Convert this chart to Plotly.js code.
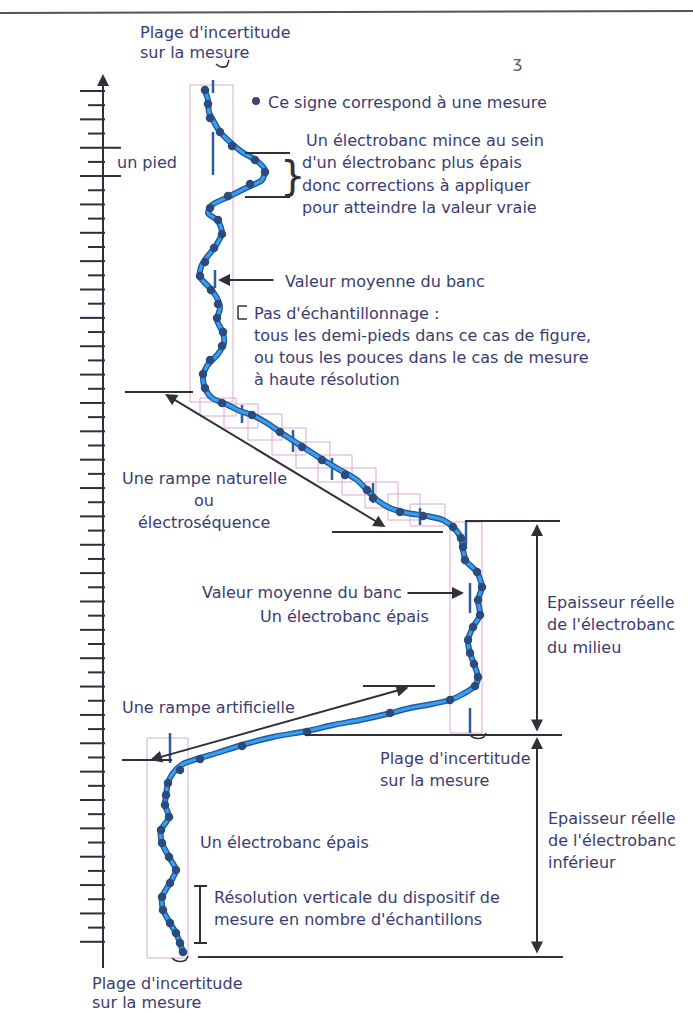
<!DOCTYPE html>
<html>
<head>
<meta charset="utf-8">
<script src="https://cdn.plot.ly/plotly-3.0.1.min.js"></script>
<style>html,body{margin:0;padding:0;background:#fff;}#chart{width:693px;height:1012px;}</style>
</head>
<body>
<div id="chart"></div>
<script>
// ---- Data (log curve: depth position, log value position) ----
const curveDepth = [88,100,112,122,132,142,152,161,170,180,188,197,205,213,221,233,247,257,267,277,288,298,308,320,333,343,354,366,377,388,398,
  405,411,415,423,432,445,458,470,480,490,500,508,513,516,520,527,
  538,550,561,572,587,600,615,627,640,653,664,677,686,694,700,705,708,714,720,725,731,737,745,753,758,764,773,
  783,795,805,817,830,843,857,870,883,897,910,923,933,943,952];
const curveValue = [204,208,209,214,220,230,242,257,265,262,246,228,212,208,218,222,215,207,201,200,210,217,220,217,223,224,218,207,203,205,212,
  228,240,252,267,280,300,320,340,357,367,377,390,407,427,443,453,
  461,463,466,477,482,478,480,473,468,470,474,478,475,463,450,427,410,387,360,333,307,273,242,217,200,183,173,
  168,166,165,169,161,162,169,176,170,162,163,170,176,180,183];
// measurement samples (dots)
const sampleDepth = [90,104,118,132,146,160,172,184,196,208,220,234,248,262,276,290,304,318,332,346,360,374,388,
  403,415,432,447,460,475,490,498,512,516,527,538,
  547,560,572,587,600,615,627,640,653,664,677,686,700,713,732,746,759,
  770,783,795,805,817,830,843,857,870,883,897,910,923,933,943,952];
const sampleValue = [205,208,210,220,232,255,265,250,228,210,218,222,214,205,200,211,218,217,223,222,210,203,205,
  222,252,280,302,322,345,367,373,400,423,453,461,
  463,465,477,482,478,480,473,468,470,474,478,475,450,390,307,242,200,
  180,168,166,165,169,161,162,169,176,170,162,163,170,176,180,183];
// uncertainty boxes [x0,x1,y0,y1]
const boxes = [[190,233,85,402],[200,236,398,416],[224,258,404,428],[248,282,414,440],[272,306,428,455],[296,330,442,468],
  [318,352,455,482],[342,376,468,495],[365,398,482,508],[388,420,494,520],[410,445,504,526],[450,482,522,733],[147,188,738,958]];
// mean-value bars [x,y0,y1]
const meanBars = [[213,80,93],[213,132,175],[215,270,288],[242,405,423],[293,430,452],[332,458,480],[373,483,503],[420,508,525],
  [470,583,613],[470,708,733],[170,733,763],[466,521,545]];
// ladder: half-foot graduations
const ladderTop = 91, ladderStep = 14.18, ladderCount = 61;

const traces = [];
// ladder
const lx=[], ly=[];
lx.push(103,103,null); ly.push(76,968,null);
for (let k=0;k<ladderCount;k++){
  const y = ladderTop + k*ladderStep;
  const long = (k%2===0);
  const right = (k===4||k===6) ? 121 : 105;
  lx.push(long?80:88, right, null); ly.push(y,y,null);
}
traces.push({x:lx,y:ly,mode:'lines',line:{color:'#2e2e3e',width:2},hoverinfo:'skip'});
// boxes
const bx=[],by=[];
boxes.forEach(b=>{bx.push(b[0],b[1],b[1],b[0],b[0],null);by.push(b[2],b[2],b[3],b[3],b[2],null);});
traces.push({x:bx,y:by,mode:'lines',line:{color:'#d9a8d2',width:1},hoverinfo:'skip'});
// mean bars
const mx=[],my=[];
meanBars.forEach(m=>{mx.push(m[0],m[0],null);my.push(m[1],m[2],null);});
traces.push({x:mx,y:my,mode:'lines',line:{color:'#2d5d9e',width:2.5},hoverinfo:'skip'});
// curve
traces.push({x:curveValue,y:curveDepth,mode:'lines',line:{color:'#1f5a9e',width:6,shape:'spline',smoothing:0.7},hoverinfo:'skip'});
traces.push({x:curveValue,y:curveDepth,mode:'lines',line:{color:'#3a9ef0',width:3.2,shape:'spline',smoothing:0.7},hoverinfo:'skip'});
traces.push({x:sampleValue,y:sampleDepth,mode:'markers',marker:{color:'#2a4b7c',size:8.5},hoverinfo:'skip'});

const K='#303038';
function seg(x0,y0,x1,y1,c,w){return {type:'line',xref:'x',yref:'y',x0:x0,y0:y0,x1:x1,y1:y1,line:{color:c||K,width:w||2}};}
const shapes = [
  seg(0,13,693,11,'#555',2),
  seg(245,153,290,153), seg(245,197,290,197),
  seg(125,392,193,392), seg(332,532,443,532),
  seg(465,521,560,521), seg(363,686,435,686),
  seg(122,760,172,760), seg(305,735,562,735), seg(198,957,563,957),
  seg(200,886,200,943), seg(194,886,207,886), seg(194,943,207,943),
  seg(238,306,238,319,K,1.5), seg(238,306,247,306,K,1.5), seg(238,319,247,319,K,1.5),
  {type:'path',xref:'x',yref:'y',path:'M216,64 Q221,69 227,66 L229,60',line:{color:K,width:1.5}},
  {type:'path',xref:'x',yref:'y',path:'M470,735 Q476,741 484,737 L486,733',line:{color:K,width:1.5}},
  {type:'path',xref:'x',yref:'y',path:'M172,958 Q178,964 186,960 L188,956',line:{color:K,width:1.5}},
  {type:'circle',xref:'x',yref:'y',x0:252,x1:260,y0:97,y1:105,fillcolor:'#3c4670',line:{width:0}}
];

const TC='#3a3c70';
function txt(t,x,y,anchor,size){return {text:t,x:x,y:y,xref:'x',yref:'y',xanchor:anchor||'left',yanchor:'middle',showarrow:false,font:{family:'DejaVu Sans',size:size||16,color:TC}};}
function arr(x,y,ax,ay,both){return {x:x,y:y,ax:ax,ay:ay,xref:'x',yref:'y',axref:'x',ayref:'y',text:'',showarrow:true,arrowhead:2,arrowsize:1.2,arrowwidth:2,arrowcolor:K,arrowside:both?'end+start':'end',startarrowhead:2,startarrowsize:1.2};}
const annotations = [
  txt("Plage d'incertitude",138,32), txt("sur la mesure",138,52),
  txt("Ce signe correspond à une mesure",266,102),
  txt("Un électrobanc mince au sein",304,140), txt("d'un électrobanc plus épais",300,162),
  txt("donc corrections à appliquer",300,185), txt("pour atteindre la valeur vraie",300,207),
  {text:'}',x:292,y:176,xref:'x',yref:'y',xanchor:'center',yanchor:'middle',showarrow:false,font:{family:'DejaVu Sans',size:40,color:K}},
  txt("un pied",115,162),
  txt("Valeur moyenne du banc",283,281),
  txt("Pas d'échantillonnage :",252,313), txt("tous les demi-pieds dans ce cas de figure,",252,335),
  txt("ou tous les pouces dans le cas de mesure",252,357), txt("à haute résolution",252,379),
  txt("Une rampe naturelle",204,478,'center'), txt("ou",204,500,'center'), txt("électroséquence",204,522,'center'),
  txt("Valeur moyenne du banc",404,592,'right'),
  txt("Un électrobanc épais",258,616),
  txt("Epaisseur réelle",545,602), txt("de l'électrobanc",545,624), txt("du milieu",545,647),
  txt("Une rampe artificielle",120,707),
  txt("Plage d'incertitude",378,758), txt("sur la mesure",378,780),
  txt("Epaisseur réelle",546,818), txt("de l'électrobanc",546,840), txt("inférieur",546,862),
  txt("Un électrobanc épais",198,842),
  txt("Résolution verticale du dispositif de",212,897), txt("mesure en nombre d'échantillons",212,919),
  txt("Plage d'incertitude",90,983), txt("sur la mesure",90,1002),
  {text:'ʒ',x:517,y:62,xref:'x',yref:'y',showarrow:false,font:{family:'DejaVu Sans',size:16,color:'#555'}},
  arr(165,394,387,528,true),
  arr(150,760,410,687,true),
  arr(537,524,537,733,true),
  arr(537,737,537,955,true),
  arr(218,280,275,280,false),
  arr(464,593,406,593,false),
  arr(103,74,103,100,false)
];

const layout = {
  width:693,height:1012,margin:{l:0,r:0,t:0,b:0},
  paper_bgcolor:'#ffffff',plot_bgcolor:'#ffffff',showlegend:false,
  xaxis:{range:[0,693],visible:false,fixedrange:true},
  yaxis:{range:[1012,0],visible:false,fixedrange:true},
  shapes:shapes,annotations:annotations
};
Plotly.newPlot('chart',traces,layout,{staticPlot:true,displayModeBar:false});
</script>
</body>
</html>
